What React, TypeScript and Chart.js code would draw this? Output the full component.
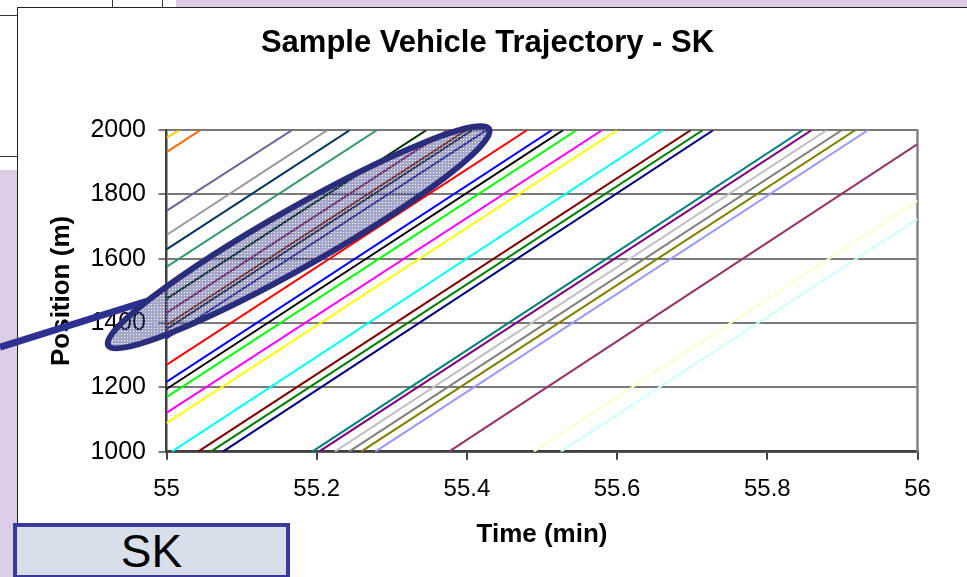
import React, { useEffect, useRef } from "react";
import { Chart, registerables } from "chart.js";

Chart.register(...registerables);

const FONT = "'Liberation Sans', Arial, Helvetica, sans-serif";

const titleText = "Sample Vehicle Trajectory - SK";
const xTitleText = "Time (min)";
const yTitleText = "Position (m)";
const boxLabel = "SK";

const xMin = 55;
const xMax = 56;
const xStep = 0.2;
const yMin = 1000;
const yMax = 2000;
const yStep = 200;

// each vehicle: point where it enters the plotted window and point where it leaves it
const entryTime = [55, 55, 55, 55, 55, 55, 55, 55, 55, 55, 55, 55, 55, 55, 55, 55, 55, 55.007, 55.042, 55.059, 55.075, 55.194, 55.203, 55.224, 55.243, 55.259, 55.278, 55.376, 55.489, 55.525];
const entryPos = [1977, 1932, 1749, 1674, 1629, 1575, 1475, 1432, 1394, 1381, 1352, 1270, 1217, 1195, 1170, 1121, 1089, 1000, 1000, 1000, 1000, 1000, 1000, 1000, 1000, 1000, 1000, 1000, 1000, 1000];
const exitTime = [55.017, 55.045, 55.167, 55.214, 55.244, 55.28, 55.346, 55.374, 55.399, 55.407, 55.426, 55.48, 55.513, 55.528, 55.546, 55.58, 55.6, 55.661, 55.698, 55.714, 55.728, 55.847, 55.859, 55.879, 55.899, 55.917, 55.934, 56, 56, 56];
const exitPos = [2000, 2000, 2000, 2000, 2000, 2000, 2000, 2000, 2000, 2000, 2000, 2000, 2000, 2000, 2000, 2000, 2000, 2000, 2000, 2000, 2000, 2000, 2000, 2000, 2000, 2000, 2000, 1957, 1780, 1724];
const lineColors = [
  "#FFCC00", "#FF6600", "#666699", "#969696", "#003366", "#339966", "#003300",
  "#993366", "#993300", "#333333", "#333399", "#FF0000", "#0000FF", "#000000",
  "#00FF00", "#FF00FF", "#FFFF00", "#00FFFF", "#800000", "#008000", "#000080",
  "#008080", "#800080", "#C0C0C0", "#808080", "#808000", "#9999FF", "#993366",
  "#FFFFCC", "#CCFFFF",
];

// highlighted group of vehicles (ellipse centre, in data units)
const highlightTime = 55.176;
const highlightPos = 1667;

function makePattern(ctx: CanvasRenderingContext2D) {
  const p = document.createElement("canvas");
  p.width = 3;
  p.height = 3;
  const pc = p.getContext("2d")!;
  pc.fillStyle = "rgba(40,44,130,0.42)";
  pc.fillRect(0, 0, 3, 3);
  pc.clearRect(1, 1, 1, 1);
  pc.fillStyle = "rgba(255,255,255,0.55)";
  pc.fillRect(1, 1, 1, 1);
  return ctx.createPattern(p, "repeat");
}

const decorPlugin = {
  id: "decor",
  beforeDatasetsDraw(chart: any) {
    const { ctx, chartArea: a } = chart;
    ctx.save();
    ctx.strokeStyle = "#858585";
    ctx.lineWidth = 2.5;
    ctx.beginPath();
    ctx.moveTo(a.right, a.top - 1);
    ctx.lineTo(a.right, a.bottom);
    ctx.stroke();
    ctx.restore();
  },
  afterDraw(chart: any) {
    const ctx: CanvasRenderingContext2D = chart.ctx;
    const cx = chart.scales.x.getPixelForValue(highlightTime);
    const cy = chart.scales.y.getPixelForValue(highlightPos);
    ctx.save();
    // connector from the left edge to the ellipse
    ctx.strokeStyle = "#2E3192";
    ctx.lineWidth = 7;
    ctx.beginPath();
    ctx.moveTo(0, cy + 110);
    ctx.lineTo(cx - 152, cy + 64);
    ctx.stroke();
    // ellipse
    ctx.beginPath();
    ctx.ellipse(cx, cy, 219, 29, (-29.6 * Math.PI) / 180, 0, Math.PI * 2);
    const pat = makePattern(ctx);
    ctx.fillStyle = pat || "rgba(40,44,130,0.4)";
    ctx.fill();
    ctx.lineWidth = 6;
    ctx.strokeStyle = "#2A2D7C";
    ctx.stroke();
    ctx.restore();
  },
};

function fmtX(v: number) {
  return String(Number(v.toFixed(1)));
}

export default function App() {
  const ref = useRef<HTMLCanvasElement | null>(null);

  useEffect(() => {
    if (!ref.current) return;
    const datasets = entryTime.map((t, i) => ({
      label: "Vehicle " + (i + 1),
      data: [
        { x: t, y: entryPos[i] },
        { x: exitTime[i], y: exitPos[i] },
      ],
      showLine: true,
      borderColor: lineColors[i],
      backgroundColor: lineColors[i],
      borderWidth: 2,
      pointRadius: 0,
      pointHoverRadius: 0,
      tension: 0,
    }));
    const chart = new Chart(ref.current, {
      type: "scatter",
      data: { datasets },
      plugins: [decorPlugin],
      options: {
        animation: false,
        responsive: false,
        devicePixelRatio: 1,
        events: [],
        layout: { padding: { left: 57.5, right: 49.5, top: 8, bottom: 25.3 } },
        plugins: {
          legend: { display: false },
          tooltip: { enabled: false },
          title: {
            display: true,
            text: titleText,
            color: "#000",
            font: { family: FONT, size: 31, weight: "bold" },
            padding: { top: 16.7, bottom: 68.3 },
          },
        },
        scales: {
          x: {
            type: "linear",
            min: xMin,
            max: xMax,
            afterFit: (s: any) => {
              s.height = 100;
            },
            ticks: {
              stepSize: xStep,
              color: "#000",
              font: { family: FONT, size: 24 },
              padding: 15.4,
              maxRotation: 0,
              callback: (v: any) => fmtX(Number(v)),
            },
            grid: {
              drawOnChartArea: false,
              drawTicks: true,
              tickLength: 8,
              color: "#404040",
              lineWidth: 2,
            },
            border: { display: true, color: "#404040", width: 2.5 },
            title: {
              display: true,
              text: xTitleText,
              color: "#000",
              font: { family: FONT, size: 26, weight: "bold" },
              padding: { top: 4, bottom: 1.1 },
            },
          },
          y: {
            type: "linear",
            min: yMin,
            max: yMax,
            afterFit: (s: any) => {
              s.width = 109;
            },
            ticks: {
              stepSize: yStep,
              color: "#000",
              font: { family: FONT, size: 25 },
              padding: 12.5,
              callback: (v: any) => String(v),
            },
            grid: {
              drawOnChartArea: true,
              drawTicks: true,
              tickLength: 8,
              color: "#7A7A7A",
              lineWidth: 2,
            },
            border: { display: true, color: "#404040", width: 2.5 },
            title: {
              display: true,
              text: yTitleText,
              color: "#000",
              font: { family: FONT, size: 26, weight: "bold" },
              padding: { top: -11.1, bottom: 4 },
            },
          },
        },
      },
    } as any);
    return () => chart.destroy();
  }, []);

  const purple = "#DDCDE6";
  return (
    <div
      style={{
        position: "fixed",
        left: 0,
        top: 0,
        width: 967,
        height: 577,
        overflow: "hidden",
        background: "#fff",
      }}
    >
      {/* slide background pieces */}
      <div style={{ position: "absolute", left: 176, top: 0, width: 791, height: 8, background: purple }} />
      <div style={{ position: "absolute", left: 0, top: 170, width: 18, height: 407, background: purple }} />
      <div style={{ position: "absolute", left: 0, top: 15, width: 18, height: 1, background: "#333" }} />
      <div style={{ position: "absolute", left: 0, top: 156, width: 18, height: 1, background: "#333" }} />
      <div style={{ position: "absolute", left: 112, top: 0, width: 1, height: 8, background: "#333" }} />
      <div style={{ position: "absolute", left: 162, top: 0, width: 1, height: 8, background: "#333" }} />
      {/* chart frame */}
      <div
        style={{
          position: "absolute",
          left: 17,
          top: 7,
          width: 980,
          height: 600,
          background: "#fff",
          border: "1.5px solid #222",
          boxSizing: "border-box",
        }}
      />
      <canvas
        ref={ref}
        width={967}
        height={577}
        style={{ position: "absolute", left: 0, top: 0, width: 967, height: 577 }}
      />
      {/* SK label box */}
      <div
        style={{
          position: "absolute",
          left: 13,
          top: 523,
          width: 277,
          height: 56,
          boxSizing: "border-box",
          border: "4px solid #3A3A9A",
          background: "#D9DEEB",
        }}
      />
      <div
        style={{
          position: "absolute",
          left: 13,
          top: 528,
          width: 277,
          textAlign: "center",
          fontFamily: FONT,
          fontSize: 46,
          lineHeight: "46px",
          color: "#000",
        }}
      >
        {boxLabel}
      </div>
    </div>
  );
}
